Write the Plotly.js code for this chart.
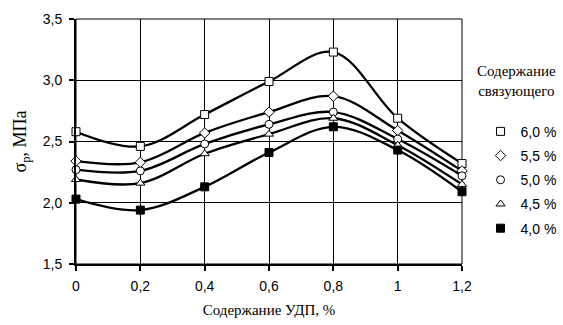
<!DOCTYPE html>
<html>
<head>
<meta charset="utf-8">
<script src="https://cdn.plot.ly/plotly-3.0.1.min.js"></script>
<style>html,body{margin:0;padding:0;background:#fff;}#chart{width:563px;height:325px;}</style>
</head>
<body>
<div id="chart"></div>
<script>
// Содержание УДП, %
var udp = [0, 0.2, 0.4, 0.6, 0.8, 1.0, 1.2];
var xTickVals = [0, 0.2, 0.4, 0.6, 0.8, 1.0, 1.2];
var xTickText = ["0", "0,2", "0,4", "0,6", "0,8", "1", "1,2"];
var yTickVals = [1.5, 2.0, 2.5, 3.0, 3.5];
var yTickText = ["1,5", "2,0", "2,5", "3,0", "3,5"];

// σр, МПа for each binder content
var s60 = [2.58, 2.46, 2.72, 2.99, 3.23, 2.69, 2.32];
var s55 = [2.34, 2.33, 2.57, 2.74, 2.87, 2.59, 2.26];
var s50 = [2.27, 2.26, 2.48, 2.64, 2.74, 2.52, 2.22];
var s45 = [2.19, 2.16, 2.40, 2.56, 2.69, 2.47, 2.15];
var s40 = [2.03, 1.94, 2.13, 2.41, 2.62, 2.43, 2.09];

var seriesNames = ["6,0 %", "5,5 %", "5,0 %", "4,5 %", "4,0 %"];
var seriesVals = [s60, s55, s50, s45, s40];
var symbols = ["square", "diamond", "circle", "triangle-up", "square"];
var fills = ["#ffffff", "#ffffff", "#ffffff", "#ffffff", "#000000"];
var sizes = [8, 8, 8, 8, 8];

var traces = [];
seriesVals.forEach(function (v, i) {
  traces.push({
    x: udp, y: v, type: "scatter", mode: "lines",
    line: {color: "#000", width: 2.3, shape: "spline", smoothing: 1},
    showlegend: false, hoverinfo: "skip"
  });
});
seriesVals.forEach(function (v, i) {
  traces.push({
    x: udp, y: v, type: "scatter", mode: "markers", name: seriesNames[i],
    legendgroup: "g" + i,
    marker: {symbol: symbols[i], size: sizes[i], color: fills[i], line: {color: "#000", width: 1}},
    cliponaxis: false
  });
});

var layout = {
  width: 563, height: 325,
  margin: {l: 76, r: 101, t: 19, b: 61, autoexpand: false},
  paper_bgcolor: "#fff", plot_bgcolor: "#fff",
  font: {family: "Liberation Sans, Arial, sans-serif", size: 14, color: "#000"},
  xaxis: {
    range: [0, 1.2], tickvals: xTickVals, ticktext: xTickText,
    showgrid: true, gridcolor: "#000", gridwidth: 1,
    showline: true, linecolor: "#000", linewidth: 2,
    ticks: "outside", ticklen: 5, tickwidth: 2, tickcolor: "#000",
    ticklabelstandoff: 3, automargin: false,
    zeroline: false, fixedrange: true,
    tickfont: {family: "Liberation Sans, Arial, sans-serif", size: 14},
    title: {text: "Содержание УДП, %", font: {family: "Liberation Serif, Times New Roman, serif", size: 15}, standoff: 12}
  },
  yaxis: {
    range: [1.5, 3.5], tickvals: yTickVals, ticktext: yTickText,
    showgrid: true, gridcolor: "#000", gridwidth: 1,
    showline: true, linecolor: "#000", linewidth: 2,
    ticks: "outside", ticklen: 5, tickwidth: 2, tickcolor: "#000",
    ticklabelstandoff: 4, automargin: false,
    zeroline: false, fixedrange: true,
    tickfont: {family: "Liberation Sans, Arial, sans-serif", size: 14},
    title: {text: "σ<sub>р</sub>, МПа", font: {family: "Liberation Serif, Times New Roman, serif", size: 18}, standoff: 11}
  },
  shapes: [
    {type: "rect", xref: "paper", yref: "paper", x0: 0, x1: 1, y0: 0, y1: 1, line: {color: "#000", width: 1}, layer: "below"}
  ],
  showlegend: true,
  legend: {
    x: 1.048, xanchor: "left", y: 0.605, yanchor: "top",
    font: {family: "Liberation Sans, Arial, sans-serif", size: 14},
    tracegroupgap: 3, bgcolor: "rgba(0,0,0,0)"
  },
  annotations: [
    {xref: "paper", yref: "paper", x: 1.142, y: 0.745, xanchor: "center", yanchor: "middle", showarrow: false,
     text: "Содержание<br>связующего", align: "center",
     font: {family: "Liberation Serif, Times New Roman, serif", size: 15}}
  ]
};

Plotly.newPlot("chart", traces, layout, {displayModeBar: false, staticPlot: true});
</script>
</body>
</html>
